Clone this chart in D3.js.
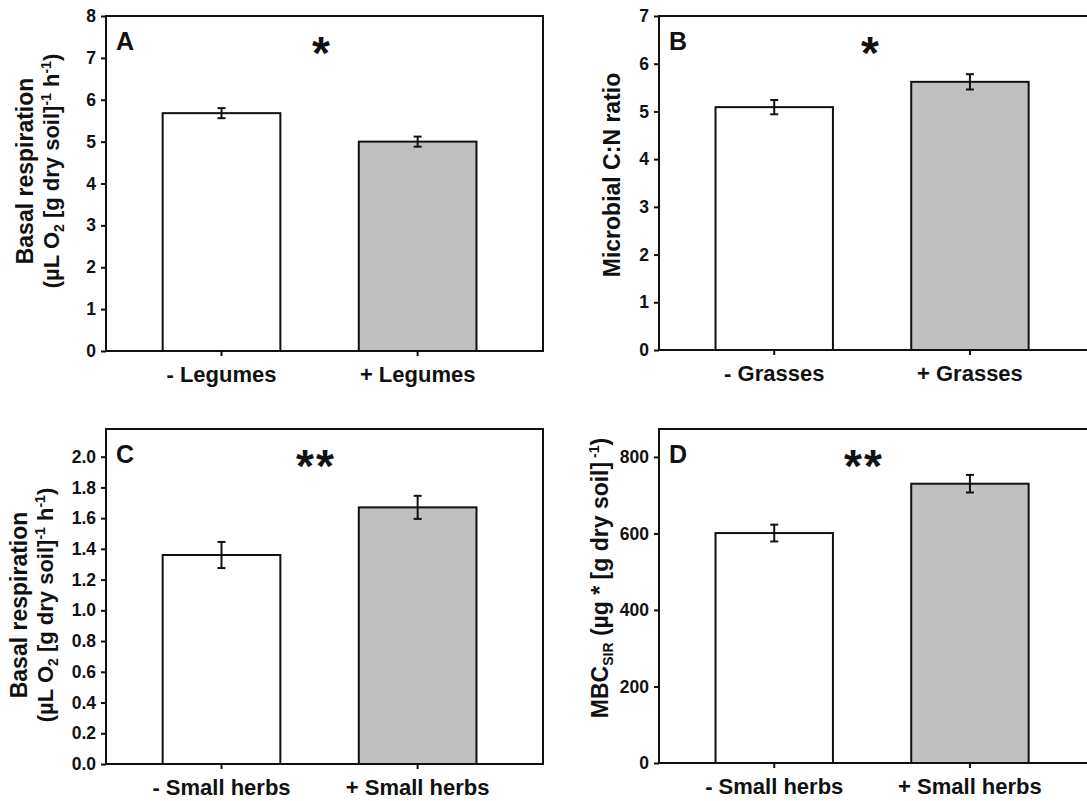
<!DOCTYPE html>
<html><head><meta charset="utf-8">
<script src="https://cdn.jsdelivr.net/npm/d3@7"></script>
<style>
html,body{margin:0;padding:0;background:#fff;}
text{font-family:"Liberation Sans",Arial,sans-serif;font-weight:bold;fill:#111;}
</style></head>
<body>
<svg id="chart" width="1087" height="801"></svg>
<script>
// ---- data ----
const panelLetters = ["A", "B", "C", "D"];
const significance = ["*", "*", "**", "**"];
const categoriesA = ["- Legumes", "+ Legumes"];
const categoriesB = ["- Grasses", "+ Grasses"];
const categoriesC = ["- Small herbs", "+ Small herbs"];
const categoriesD = ["- Small herbs", "+ Small herbs"];
const valuesA = [5.68, 5.00];
const errorsA = [0.12, 0.12];
const valuesB = [5.09, 5.62];
const errorsB = [0.15, 0.16];
const valuesC = [1.36, 1.67];
const errorsC = [0.085, 0.075];
const valuesD = [601, 730];
const errorsD = [22, 23];
const ticksA = [0, 1, 2, 3, 4, 5, 6, 7, 8];
const ticksB = [0, 1, 2, 3, 4, 5, 6, 7];
const ticksC = [0, 0.2, 0.4, 0.6, 0.8, 1.0, 1.2, 1.4, 1.6, 1.8, 2.0];
const ticksD = [0, 200, 400, 600, 800];
const yMaxA = 8, yMaxB = 7, yMaxC = 2.18, yMaxD = 873;
const barFills = ["#ffffff", "#c0c0c0"];

const svg = d3.select("#chart");

const panels = [
  {letter: panelLetters[0], sig: significance[0], cats: categoriesA, vals: valuesA, errs: errorsA, ticks: ticksA, yMax: yMaxA, fmt: d3.format("d"),
   box: {x0: 106, x1: 543, y0: 16, y1: 351}, label: "resp", labelX: [33, 59], labelY: 171, sigX: 322},
  {letter: panelLetters[1], sig: significance[1], cats: categoriesB, vals: valuesB, errs: errorsB, ticks: ticksB, yMax: yMaxB, fmt: d3.format("d"),
   box: {x0: 659, x1: 1095, y0: 16, y1: 350}, label: "cn", labelX: [620], labelY: 175, sigX: 871},
  {letter: panelLetters[2], sig: significance[2], cats: categoriesC, vals: valuesC, errs: errorsC, ticks: ticksC, yMax: yMaxC, fmt: d3.format(".1f"),
   box: {x0: 106, x1: 543, y0: 429, y1: 764}, label: "resp", labelX: [27, 53], labelY: 605, sigX: 316},
  {letter: panelLetters[3], sig: significance[3], cats: categoriesD, vals: valuesD, errs: errorsD, ticks: ticksD, yMax: yMaxD, fmt: d3.format("d"),
   box: {x0: 659, x1: 1095, y0: 429, y1: 763}, label: "mbc", labelX: [608], labelY: 578, sigX: 864}
];

panels.forEach(p => {
  const b = p.box;
  const g = svg.append("g");
  const x = d3.scaleBand().domain(p.cats).range([b.x0, b.x1]).paddingInner(0.4).paddingOuter(0.314).align(0.46);
  const y = d3.scaleLinear().domain([0, p.yMax]).range([b.y1, b.y0]);

  // bars
  g.selectAll("rect.bar").data(p.vals).join("rect")
    .attr("class", "bar")
    .attr("x", (d, i) => x(p.cats[i]))
    .attr("width", x.bandwidth())
    .attr("y", d => y(d))
    .attr("height", d => y(0) - y(d))
    .attr("fill", (d, i) => barFills[i])
    .attr("stroke", "#111").attr("stroke-width", 2);

  // error bars
  const cap = 4;
  p.vals.forEach((v, i) => {
    const cx = x(p.cats[i]) + x.bandwidth() / 2;
    const e = p.errs[i];
    const eg = g.append("g").attr("stroke", "#111").attr("stroke-width", 2);
    eg.append("line").attr("x1", cx).attr("x2", cx).attr("y1", y(v + e)).attr("y2", y(v - e));
    eg.append("line").attr("x1", cx - cap).attr("x2", cx + cap).attr("y1", y(v + e)).attr("y2", y(v + e));
    eg.append("line").attr("x1", cx - cap).attr("x2", cx + cap).attr("y1", y(v - e)).attr("y2", y(v - e));
  });

  // frame
  g.append("rect").attr("x", b.x0).attr("y", b.y0).attr("width", b.x1 - b.x0).attr("height", b.y1 - b.y0)
    .attr("fill", "none").attr("stroke", "#111").attr("stroke-width", 2);

  // y axis
  const ya = g.append("g").attr("transform", `translate(${b.x0},0)`)
    .call(d3.axisLeft(y).tickValues(p.ticks).tickFormat(p.fmt).tickSize(5).tickSizeOuter(0).tickPadding(5));
  ya.select(".domain").remove();
  ya.selectAll(".tick line").attr("stroke", "#111").attr("stroke-width", 2);
  ya.selectAll(".tick text").style("font-size", "17.5px").attr("fill", "#111");

  // x axis
  const xa = g.append("g").attr("transform", `translate(0,${b.y1})`)
    .call(d3.axisBottom(x).tickSize(5).tickSizeOuter(0).tickPadding(10));
  xa.select(".domain").remove();
  xa.selectAll(".tick line").attr("stroke", "#111").attr("stroke-width", 2);
  xa.selectAll(".tick text").style("font-size", "22px").attr("fill", "#111");

  // panel letter
  g.append("text").attr("x", b.x0 + 10).attr("y", b.y0 + 34).style("font-size", "25px").text(p.letter);

  // significance
  g.append("text").attr("x", p.sigX).attr("y", b.y0 + 53).attr("text-anchor", "middle")
    .style("font-size", "46px").attr("letter-spacing", "2px").text(p.sig);

  // y label
  if (p.label === "resp") {
    g.append("text").attr("transform", `translate(${p.labelX[0]},${p.labelY}) rotate(-90)`)
      .attr("text-anchor", "middle").style("font-size", "23px").text("Basal respiration");
    const t2 = g.append("text").attr("transform", `translate(${p.labelX[1]},${p.labelY}) rotate(-90)`)
      .attr("text-anchor", "middle").style("font-size", "22px");
    t2.append("tspan").text("(µL O");
    t2.append("tspan").attr("dy", 5).style("font-size", "14px").text("2");
    t2.append("tspan").attr("dy", -5).text(" [g dry soil]");
    t2.append("tspan").attr("dy", -8).style("font-size", "14px").text("-1");
    t2.append("tspan").attr("dy", 8).text(" h");
    t2.append("tspan").attr("dy", -8).style("font-size", "14px").text("-1");
    t2.append("tspan").attr("dy", 8).text(")");
  } else if (p.label === "cn") {
    g.append("text").attr("transform", `translate(${p.labelX[0]},${p.labelY}) rotate(-90)`)
      .attr("text-anchor", "middle").style("font-size", "23px").text("Microbial C:N ratio");
  } else {
    const t = g.append("text").attr("transform", `translate(${p.labelX[0]},${p.labelY}) rotate(-90)`)
      .attr("text-anchor", "middle").style("font-size", "23px");
    t.append("tspan").text("MBC");
    t.append("tspan").attr("dy", 5).style("font-size", "14px").text("SIR");
    t.append("tspan").attr("dy", -5).text(" (µg * [g dry soil]");
    t.append("tspan").attr("dy", -9).style("font-size", "14px").text(" -1");
    t.append("tspan").attr("dy", 9).text(")");
  }
});
</script>
</body></html>
